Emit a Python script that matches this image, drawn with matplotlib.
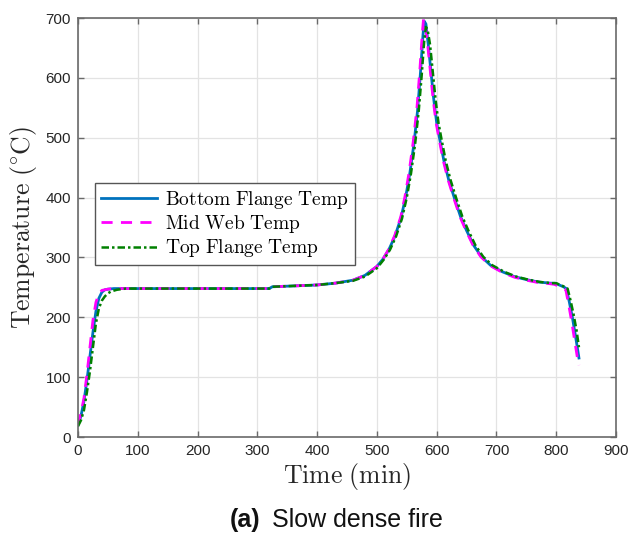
import matplotlib
matplotlib.use("Agg")
import matplotlib.pyplot as plt

plt.rcParams['mathtext.fontset'] = 'cm'

# ---- data ----
t_bottom = [0, 5, 10, 15, 20, 25, 30, 35, 40, 45, 50, 60, 80, 150, 250, 320, 325, 350, 400, 430,
            460, 480, 500, 510, 520, 530, 540, 548, 555, 562, 568, 573, 577, 579, 582, 586, 590,
            595, 600, 605, 612, 620, 630, 640, 650, 662, 675, 690, 710, 730, 750, 770, 790, 798,
            805, 812, 817, 822, 827, 832, 836, 838]
T_bottom = [20, 35, 60, 95, 135, 175, 210, 232, 242, 246, 247, 248, 248, 248, 248, 248, 251, 252, 254, 257,
            262, 270, 285, 297, 313, 335, 365, 400, 440, 490, 545, 610, 670, 695, 690, 655, 615,
            565, 525, 498, 462, 430, 398, 368, 345, 320, 301, 287, 276, 268, 263, 259, 257, 257,
            254, 251, 248, 225, 200, 170, 145, 132]

t_mid = [0, 5, 10, 15, 20, 25, 30, 35, 40, 50, 60, 80, 150, 250, 320, 325, 350, 400, 430,
         460, 480, 500, 510, 520, 530, 540, 547, 554, 561, 567, 572, 576, 578, 581, 585, 589,
         594, 599, 604, 611, 619, 629, 639, 649, 661, 674, 690, 710, 730, 750, 770, 790, 797,
         804, 811, 816, 821, 826, 831, 835, 838]
T_mid = [20, 40, 65, 105, 150, 195, 225, 240, 245, 247, 248, 248, 248, 248, 248, 251, 252, 254, 257,
         262, 270, 285, 297, 314, 337, 368, 402, 443, 495, 550, 615, 675, 698, 690, 655, 615,
         565, 525, 498, 462, 430, 398, 368, 345, 320, 301, 286, 275, 267, 262, 258, 256, 255,
         252, 249, 246, 220, 192, 160, 135, 120]

t_top = [0, 5, 10, 15, 20, 25, 30, 35, 40, 45, 50, 55, 65, 80, 150, 250, 320, 325, 350, 400, 430,
         460, 480, 500, 512, 522, 532, 542, 550, 557, 564, 570, 575, 579, 582, 585, 589, 593,
         598, 603, 608, 615, 623, 633, 643, 653, 665, 678, 693, 713, 733, 753, 773, 793, 800,
         807, 814, 819, 824, 829, 834, 838]
T_top = [18, 28, 45, 75, 110, 150, 190, 215, 228, 235, 240, 243, 246, 248, 248, 248, 248, 251, 252, 254, 257,
         261, 268, 282, 297, 313, 335, 365, 400, 440, 490, 545, 605, 660, 685, 680, 655, 615,
         565, 525, 498, 462, 430, 398, 368, 345, 320, 301, 287, 276, 268, 263, 259, 257, 257,
         254, 251, 248, 228, 205, 178, 150]

labels = [r'$\mathrm{Bottom\ Flange\ Temp}$', r'$\mathrm{Mid\ Web\ Temp}$', r'$\mathrm{Top\ Flange\ Temp}$']
x_ticks = [0, 100, 200, 300, 400, 500, 600, 700, 800, 900]
y_ticks = [0, 100, 200, 300, 400, 500, 600, 700]

fig = plt.figure(figsize=(6.30, 5.39), dpi=100)
ax = fig.add_axes([0.1238, 0.1892, 0.854, 0.7774])

ax.plot(t_bottom, T_bottom, color='#0072BD', lw=2.0, ls='-', label=labels[0])
ax.plot(t_mid, T_mid, color='#FF00FF', lw=2.0, ls=(0, (4, 3)), label=labels[1])
ax.plot(t_top, T_top, color='#008000', lw=1.8, ls=(0, (3, 1.2, 1, 1.2)), label=labels[2])

ax.set_xlim(0, 900)
ax.set_ylim(0, 700)
ax.set_xticks(x_ticks)
ax.set_yticks(y_ticks)

spine_c = '#6a6a6a'
for s in ax.spines.values():
    s.set_color(spine_c)
    s.set_linewidth(1.2)
ax.tick_params(direction='in', top=True, right=True, length=4, width=1, color=spine_c,
               labelsize=11, labelcolor='#262626', pad=5)
for lab in ax.get_xticklabels() + ax.get_yticklabels():
    lab.set_family('Liberation Sans')
ax.grid(True, color='#e3e3e3', lw=0.9)
ax.set_axisbelow(True)

ax.set_xlabel(r'$\mathrm{Time\ (min)}$', fontsize=18.5, color='#262626', labelpad=2)
ax.set_ylabel(r'$\mathrm{Temperature\ (^{\circ}C)}$', fontsize=18.5, color='#262626', labelpad=5)

leg = ax.legend(loc='lower left', bbox_to_anchor=(0.032, 0.41), fontsize=14, frameon=True,
                fancybox=False, edgecolor='#555555', framealpha=1, handlelength=2.9,
                borderpad=0.3, labelspacing=0.12, handletextpad=0.4, borderaxespad=0)
leg.get_frame().set_linewidth(1.0)

fig.text(0.413, 0.022, '(a)', ha='right', va='baseline', fontsize=18, fontweight='bold',
         family='Liberation Sans', color='#111111')
fig.text(0.432, 0.022, 'Slow dense fire', ha='left', va='baseline', fontsize=18,
         family='Liberation Sans', color='#111111')

fig.savefig('out.png', dpi=100)
